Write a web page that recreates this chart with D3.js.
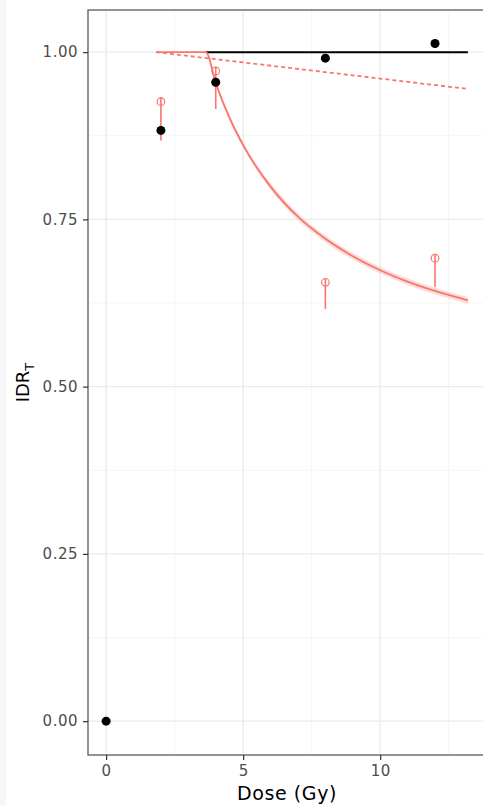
<!DOCTYPE html>
<html>
<head>
<meta charset="utf-8">
<script src="https://cdn.jsdelivr.net/npm/d3@7"></script>
<style>
    html, body { margin: 0; padding: 0; background: #fff; }
    svg { display: block; font-family: 'DejaVu Sans', sans-serif; }
</style>
</head>
<body>
<div id="chart"></div>
<script>
// observed IDR_T by dose
const doses = [0, 2, 4, 8, 12];
const observed = [0, 0.883, 0.955, 0.991, 1.013];

// red open points with error bars
const redDoses = [2, 4, 8, 12];
const redValues = [0.926, 0.972, 0.656, 0.692];
const redLower = [0.868, 0.915, 0.616, 0.649];
const redUpper = [0.933, 0.978, 0.662, 0.698];

// black reference line
const blackLineX = [3.64, 13.2];
const blackLineY = [1.0, 1.0];

// red fitted curve
const curveX = [1.82, 3.64, 4, 4.5, 5, 6, 7, 8, 9, 10, 11, 12, 13.2];
const curveY = [1.0, 1.0, 0.954, 0.902, 0.861, 0.799, 0.754, 0.721, 0.695, 0.674, 0.657, 0.643, 0.629];
const curveLo = [1.0, 1.0, 0.951, 0.898, 0.857, 0.794, 0.749, 0.716, 0.690, 0.669, 0.652, 0.638, 0.624];
const curveHi = [1.0, 1.0, 0.957, 0.906, 0.865, 0.804, 0.759, 0.726, 0.700, 0.679, 0.662, 0.648, 0.634];

// red dashed line
const dashX = [1.82, 13.2];
const dashY = [1.0, 0.945];

const xTicks = [0, 5, 10];
const xMinor = [2.5, 7.5, 12.5];
const yTicks = [0, 0.25, 0.5, 0.75, 1.0];
const yMinor = [0.125, 0.375, 0.625, 0.875];

const width = 483;
const height = 806;
const panel = { left: 88, top: 10, right: 486, bottom: 755 };
const red = '#F8766D';

const svg = d3.select('#chart')
    .append('svg')
    .attr('width', width)
    .attr('height', height);

svg.append('rect')
    .attr('x', 0).attr('y', 0)
    .attr('width', 6).attr('height', height)
    .attr('fill', '#f7f7f7');

const x = d3.scaleLinear()
    .domain([-0.66, 13.86])
    .range([panel.left, panel.right]);
const y = d3.scaleLinear()
    .domain([-0.0506, 1.063])
    .range([panel.bottom, panel.top]);

svg.append('defs').append('clipPath').attr('id', 'panelClip')
    .append('rect')
    .attr('x', panel.left).attr('y', panel.top)
    .attr('width', panel.right - panel.left).attr('height', panel.bottom - panel.top);

const grid = svg.append('g');
// minor grid
grid.selectAll('.vminor').data(xMinor).join('line')
    .attr('x1', d => x(d)).attr('x2', d => x(d))
    .attr('y1', panel.top).attr('y2', panel.bottom)
    .attr('stroke', '#f3f3f3').attr('stroke-width', 0.8);
grid.selectAll('.hminor').data(yMinor).join('line')
    .attr('y1', d => y(d)).attr('y2', d => y(d))
    .attr('x1', panel.left).attr('x2', panel.right)
    .attr('stroke', '#f3f3f3').attr('stroke-width', 0.8);
// major grid
grid.selectAll('.vmajor').data(xTicks).join('line')
    .attr('x1', d => x(d)).attr('x2', d => x(d))
    .attr('y1', panel.top).attr('y2', panel.bottom)
    .attr('stroke', '#ebebeb').attr('stroke-width', 1.4);
grid.selectAll('.hmajor').data(yTicks).join('line')
    .attr('y1', d => y(d)).attr('y2', d => y(d))
    .attr('x1', panel.left).attr('x2', panel.right)
    .attr('stroke', '#ebebeb').attr('stroke-width', 1.4);

const plot = svg.append('g').attr('clip-path', 'url(#panelClip)');

const line = d3.line()
    .x(d => x(d[0]))
    .y(d => y(d[1]));

// ribbon around the red curve
const ribbon = d3.area()
    .x(d => x(d[0]))
    .y0(d => y(d[1]))
    .y1(d => y(d[2]))
    .curve(d3.curveMonotoneX);
plot.append('path')
    .datum(curveX.map((d, i) => [d, curveLo[i], curveHi[i]]))
    .attr('d', ribbon)
    .attr('fill', red)
    .attr('opacity', 0.25);

// black line
plot.append('path')
    .datum(blackLineX.map((d, i) => [d, blackLineY[i]]))
    .attr('d', line)
    .attr('fill', 'none')
    .attr('stroke', '#000')
    .attr('stroke-width', 2);

// red dashed
plot.append('path')
    .datum(dashX.map((d, i) => [d, dashY[i]]))
    .attr('d', line)
    .attr('fill', 'none')
    .attr('stroke', red)
    .attr('stroke-width', 1.8)
    .attr('stroke-dasharray', '4,3');

// red curve
plot.append('path')
    .datum(curveX.map((d, i) => [d, curveY[i]]))
    .attr('d', line.curve(d3.curveMonotoneX))
    .attr('fill', 'none')
    .attr('stroke', red)
    .attr('stroke-width', 1.8);

// error bars
plot.selectAll('.err').data(redDoses).join('line')
    .attr('x1', d => x(d)).attr('x2', d => x(d))
    .attr('y1', (d, i) => y(redUpper[i]))
    .attr('y2', (d, i) => y(redLower[i]))
    .attr('stroke', red)
    .attr('stroke-width', 1.6);

plot.selectAll('.redpt').data(redDoses).join('circle')
    .attr('cx', d => x(d))
    .attr('cy', (d, i) => y(redValues[i]))
    .attr('r', 3.8)
    .attr('fill', 'none')
    .attr('stroke', red)
    .attr('stroke-width', 1.2);

plot.selectAll('.obs').data(doses).join('circle')
    .attr('cx', d => x(d))
    .attr('cy', (d, i) => y(observed[i]))
    .attr('r', 4.5)
    .attr('fill', '#000');

// panel border
svg.append('rect')
    .attr('x', panel.left).attr('y', panel.top)
    .attr('width', panel.right - panel.left).attr('height', panel.bottom - panel.top)
    .attr('fill', 'none')
    .attr('stroke', '#666')
    .attr('stroke-width', 1.4);

// axes
const xAxis = svg.append('g')
    .attr('transform', `translate(0,${panel.bottom})`)
    .call(d3.axisBottom(x).tickValues(xTicks).tickSize(5).tickPadding(5).tickFormat(d3.format('d')));
const yAxis = svg.append('g')
    .attr('transform', `translate(${panel.left},0)`)
    .call(d3.axisLeft(y).tickValues(yTicks).tickSize(5).tickPadding(5).tickFormat(d3.format('.2f')));
[xAxis, yAxis].forEach(ax => {
    ax.select('.domain').remove();
    ax.selectAll('.tick line').attr('stroke', '#333').attr('stroke-width', 1.2);
    ax.selectAll('.tick text')
        .attr('fill', '#4d4d4d')
        .attr('font-size', 15)
        .attr('letter-spacing', 0.5)
        .attr('font-family', 'DejaVu Sans, sans-serif');
});

// axis titles
svg.append('text')
    .attr('x', (panel.left + panel.right) / 2)
    .attr('y', 800)
    .attr('text-anchor', 'middle')
    .attr('font-size', 19)
    .attr('letter-spacing', 0.6)
    .attr('fill', '#000')
    .text('Dose (Gy)');

const yTitle = svg.append('text')
    .attr('transform', `translate(29,${(panel.top + panel.bottom) / 2}) rotate(-90)`)
    .attr('text-anchor', 'middle')
    .attr('font-size', 18)
    .attr('fill', '#000');
yTitle.append('tspan').text('IDR');
yTitle.append('tspan').attr('font-size', 13).attr('dy', 5).text('T');
</script>
</body>
</html>
